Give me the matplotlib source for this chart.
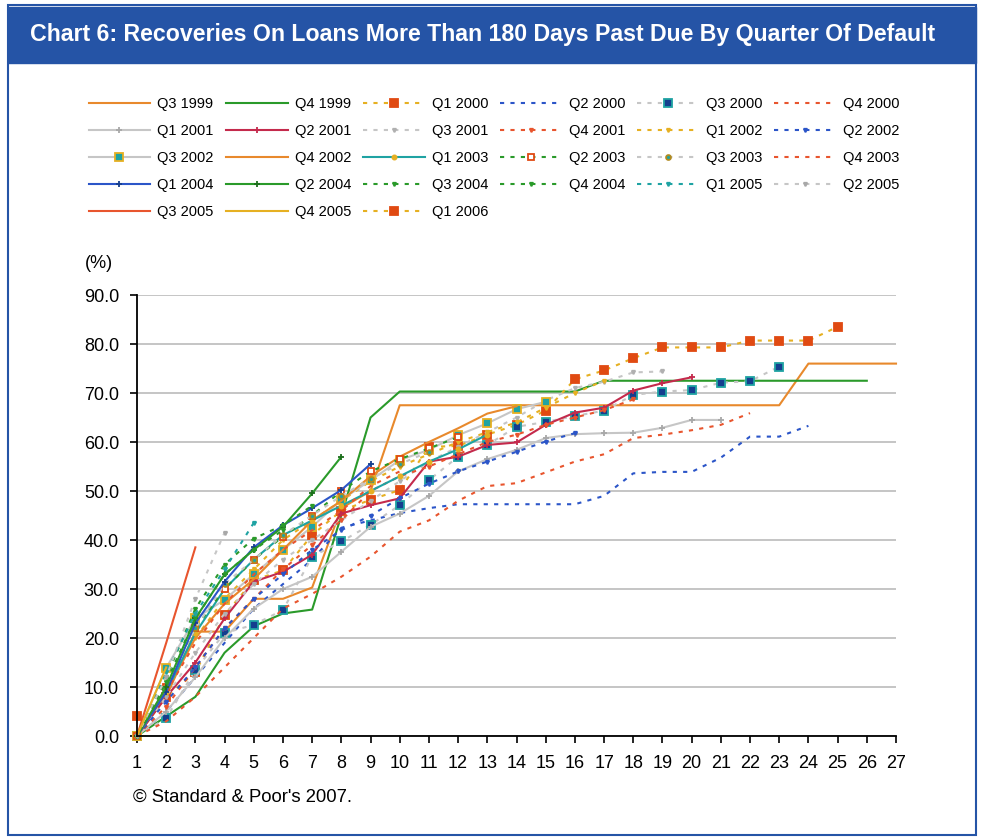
import matplotlib
matplotlib.use("Agg")
import matplotlib.pyplot as plt
from matplotlib.patches import Rectangle

plt.rcParams['font.family'] = ['Liberation Sans', 'DejaVu Sans']

# recovery rate (%) by quarters since default, one list per default cohort
q3_1999 = [0, 8, 21.3, 21.3, 28, 28, 30.3, 46.5, 50, 67.5, 67.5, 67.5, 67.5, 67.5,
           67.5, 67.5, 67.5, 67.5, 67.5, 67.5, 67.5, 67.5, 67.5, 76, 76, 76, 76]
q4_1999 = [0, 4, 8, 17, 22.4, 25, 25.8, 45, 65, 70.3, 70.3, 70.3, 70.3, 70.3, 70.3,
           70.3, 72.5, 72.5, 72.5, 72.5, 72.5, 72.5, 72.5, 72.5, 72.5, 72.5]
q1_2000 = [0, 8, 13, 24.7, 31.8, 33.8, 41, 46, 48.2, 50.2, 59, 59.2, 61.5, 63.5, 66.4,
           72.8, 74.6, 77.1, 79.3, 79.3, 79.3, 80.7, 80.7, 80.7, 83.5]
q2_2000 = [0, 5, 12, 19, 26, 31, 36, 42.5, 44, 45.5, 46.5, 47.3, 47.3, 47.3, 47.3,
           47.3, 49, 53.6, 53.9, 53.9, 56.8, 61.1, 61.1, 63.3]
q3_2000 = [0, 3.6, 13.5, 21, 22.7, 25.7, 36.6, 39.7, 43.1, 47.1, 52.2, 57, 59.4, 63.1,
           64.1, 65.3, 66.4, 69.6, 70.3, 70.6, 72.1, 72.4, 75.4]
q4_2000 = [0, 3, 8, 14, 20, 26, 29, 32.5, 36.6, 41.7, 44, 48, 51, 51.6, 53.8, 56, 57.5,
           60.8, 61.5, 62.4, 63.5, 65.9]
q1_2001 = [0, 5, 12, 20, 26, 30, 32.5, 37.6, 42.7, 45.4, 49, 54, 56.5, 58.4, 60.8,
           61.6, 61.8, 61.9, 62.9, 64.5, 64.5]
q2_2001 = [0, 8, 15, 24, 31.5, 33.5, 37, 45.4, 47.1, 48.5, 56, 57, 59.4, 59.9, 63.5,
           66, 67, 70.5, 72, 73.2]
q3_2001 = [0, 8, 17, 25, 31, 36, 40, 44, 48, 52, 56, 59, 62, 65, 68.5, 71, 72.3, 74.2, 74.4]
q4_2001 = [0, 6, 14, 22, 28, 34, 39, 44, 50, 53, 55, 57.5, 60, 61.5, 63.5, 65, 66.5, 68.7]
q1_2002 = [0, 10, 20, 28, 34, 40, 44, 48, 52, 55, 57.5, 60, 62, 64, 67, 70, 72.5]
q2_2002 = [0, 7, 14, 22, 28, 33, 38, 42, 45, 48.5, 51.5, 54, 56, 58, 60.1, 61.8]
q3_2002 = [0, 13.9, 24, 27.8, 33, 38, 42.7, 48.2, 52.2, 56.3, 58.4, 61.4, 63.8, 66.7, 68.2]
q4_2002 = [0, 9, 20, 27, 32, 38, 44, 48, 53, 57, 60, 62.8, 65.8, 67.3]
q1_2003 = [0, 9, 21, 30, 36, 41, 44, 47, 50, 53, 56, 58.5, 61.5]
q2_2003 = [0, 10, 22, 30, 36, 40.7, 45, 50, 54, 56.5, 58.7, 61]
q3_2003 = [0, 10, 22, 31, 36, 41, 45, 49, 52.5, 55.5, 58]
q4_2003 = [0, 9, 19, 27, 33, 38, 42, 46, 51, 54]
q1_2004 = [0, 9, 23, 31.5, 38.5, 43, 46.5, 50.2, 55.5]
q2_2004 = [0, 10, 24, 33, 38, 42.7, 49.5, 57]
q3_2004 = [0, 12, 26, 35, 40.3, 43, 47]
q4_2004 = [0, 11, 24, 33, 38, 42]
q1_2005 = [0, 13, 25, 34, 43.5]
q2_2005 = [0, 12, 28, 41.5]
q3_2005 = [0, 19, 38.5]
q4_2005 = [0, 14]
q1_2006 = [4]

labels = ["Q3 1999", "Q4 1999", "Q1 2000", "Q2 2000", "Q3 2000", "Q4 2000",
          "Q1 2001", "Q2 2001", "Q3 2001", "Q4 2001", "Q1 2002", "Q2 2002",
          "Q3 2002", "Q4 2002", "Q1 2003", "Q2 2003", "Q3 2003", "Q4 2003",
          "Q1 2004", "Q2 2004", "Q3 2004", "Q4 2004", "Q1 2005", "Q2 2005",
          "Q3 2005", "Q4 2005", "Q1 2006"]
series = [q3_1999, q4_1999, q1_2000, q2_2000, q3_2000, q4_2000, q1_2001, q2_2001,
          q3_2001, q4_2001, q1_2002, q2_2002, q3_2002, q4_2002, q1_2003, q2_2003,
          q3_2003, q4_2003, q1_2004, q2_2004, q3_2004, q4_2004, q1_2005, q2_2005,
          q3_2005, q4_2005, q1_2006]
x_ticks = list(range(1, 28))
y_ticks = [0, 10, 20, 30, 40, 50, 60, 70, 80, 90]

# colours
orange = '#E8892C'
green = '#2A9A2A'
gold = '#E6B022'
redsq = '#E04A12'
blue = '#2B55C8'
lgray = '#C6C6C6'
teal = '#1FA3A3'
navy = '#153E8E'
red = '#E8552E'
crimson = '#C42A4C'
dot = (0, (2, 3))

# (colour, linestyle, marker, face, edge, size)
styles = {
    "Q3 1999": (orange, '-', None, None, None, 0),
    "Q4 1999": (green, '-', None, None, None, 0),
    "Q1 2000": (gold, dot, 's', redsq, redsq, 5.5),
    "Q2 2000": (blue, dot, None, None, None, 0),
    "Q3 2000": (lgray, dot, 's', navy, teal, 5.5),
    "Q4 2000": (red, dot, None, None, None, 0),
    "Q1 2001": (lgray, '-', '+', lgray, '#A8A8A8', 5),
    "Q2 2001": (crimson, '-', '+', crimson, crimson, 5),
    "Q3 2001": (lgray, dot, 'v', '#B0B0B0', '#B0B0B0', 2.5),
    "Q4 2001": (red, dot, 'v', red, red, 2.5),
    "Q1 2002": (gold, dot, 'v', gold, gold, 2.5),
    "Q2 2002": (blue, dot, 'v', blue, blue, 2.5),
    "Q3 2002": (lgray, '-', 's', teal, gold, 5.5),
    "Q4 2002": (orange, '-', None, None, None, 0),
    "Q1 2003": (teal, '-', 'o', gold, gold, 3),
    "Q2 2003": (green, dot, 's', 'white', redsq, 5),
    "Q3 2003": (lgray, dot, 'o', teal, '#B08A20', 3.5),
    "Q4 2003": (red, dot, None, None, None, 0),
    "Q1 2004": (blue, '-', '+', blue, navy, 5),
    "Q2 2004": (green, '-', '+', green, '#1C6E1C', 5),
    "Q3 2004": (green, dot, 'v', green, green, 2.5),
    "Q4 2004": (green, dot, 'v', green, green, 2.5),
    "Q1 2005": (teal, dot, 'v', teal, teal, 2.5),
    "Q2 2005": (lgray, dot, 'v', '#A8A8A8', '#A8A8A8', 2.5),
    "Q3 2005": (red, '-', None, None, None, 0),
    "Q4 2005": (gold, '-', None, None, None, 0),
    "Q1 2006": (gold, dot, 's', redsq, redsq, 5.5),
}

fig = plt.figure(figsize=(9.84, 8.38), dpi=100)

# frame and title band
fig.patches.append(Rectangle((8 / 984, 3 / 838), 968 / 984, 830 / 838, transform=fig.transFigure,
                             fill=False, edgecolor='#2554A6', lw=1.5, zorder=-1))
fig.patches.append(Rectangle((8 / 984, 1 - 63 / 838), 968 / 984, 56 / 838, transform=fig.transFigure,
                             facecolor='#2554A6', edgecolor='#2554A6', lw=1, zorder=-1))
fig.text(30 / 984, 1 - 35 / 838, "Chart 6: Recoveries On Loans More Than 180 Days Past Due By Quarter Of Default",
         color='white', fontsize=16.7, fontweight='bold', va='center', ha='left')

ax = fig.add_axes([137 / 984, 1 - 736 / 838, 759 / 984, 441 / 838])
ax.set_zorder(2)

handles = []
for lab, vals in zip(labels, series):
    c, ls, mk, fc, ec, ms = styles[lab]
    xs = x_ticks[:len(vals)]
    h, = ax.plot(xs, vals, color=c, linestyle=ls, lw=1.5, marker=mk, markersize=ms,
                 markerfacecolor=fc, markeredgecolor=ec, markeredgewidth=1.3, label=lab,
                 clip_on=False)
    handles.append(h)

ax.set_xlim(1, 27)
ax.set_ylim(0, 90)
ax.set_xticks(x_ticks)
ax.set_yticks(y_ticks)
ax.set_yticklabels([f"{v:.1f}" for v in y_ticks])
ax.grid(axis='y', color='#C0C0C0', lw=1.3)
ax.set_axisbelow(True)
for s in ['top', 'right']:
    ax.spines[s].set_visible(False)
for s in ['left', 'bottom']:
    ax.spines[s].set_color('black')
    ax.spines[s].set_linewidth(1.3)
ax.tick_params(axis='both', direction='out', length=5, width=1.2, labelsize=13, colors='black')
ax.tick_params(axis='x', pad=9)
ax.tick_params(axis='y', pad=8)

fig.text(85 / 984, 1 - 263 / 838, "(%)", fontsize=13, va='center', ha='left')
fig.text(133 / 984, 1 - 797 / 838, "\u00a9 Standard & Poor's 2007.", fontsize=13.3, va='center', ha='left')

# legend reads row by row in the reference; matplotlib fills column by column
ncol = 6
order = [r * ncol + c for c in range(ncol) for r in range(5) if r * ncol + c < len(handles)]
fig.legend(handles=[handles[i] for i in order], ncol=ncol, loc='upper left', mode='expand',
           bbox_to_anchor=(71 / 984, 1 - 226 / 838, 846 / 984, 146 / 838),
           fontsize=10.5, handlelength=4.25, handletextpad=0.48, labelspacing=0.88,
           borderpad=0.7, frameon=False)

fig.savefig("out.png", dpi=100)
